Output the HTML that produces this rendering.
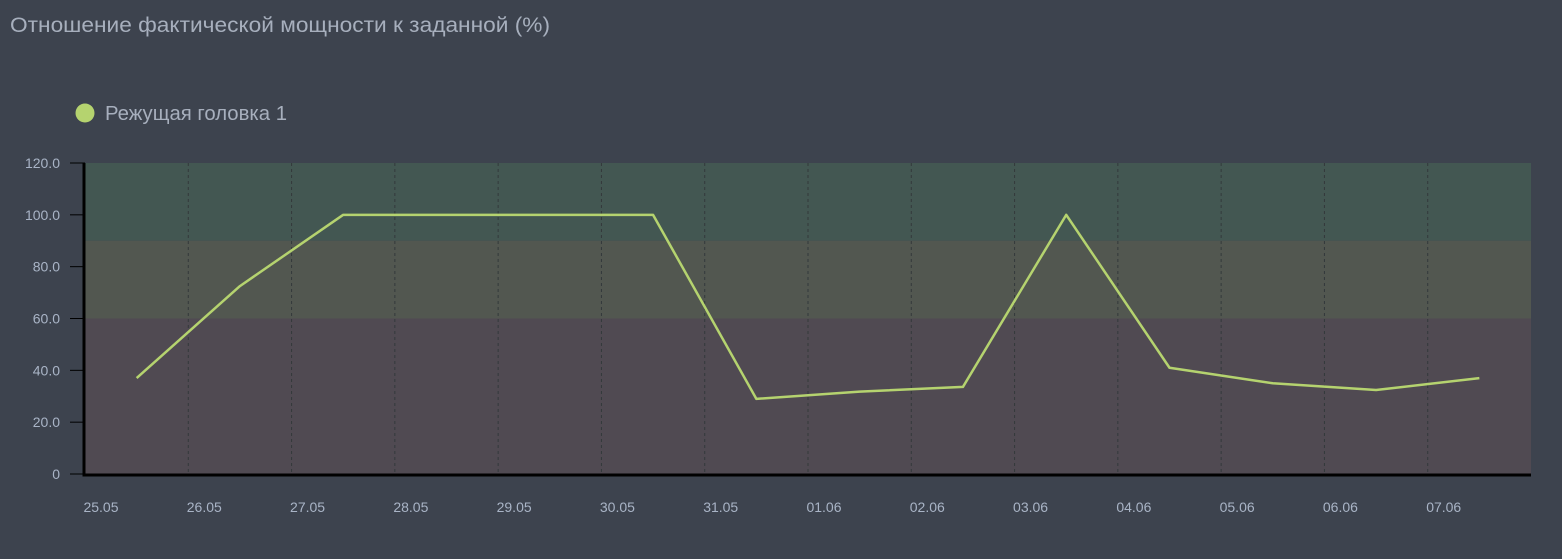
<!DOCTYPE html>
<html><head><meta charset="utf-8"><style>
html,body{margin:0;padding:0;background:#3d434e;}
body{width:1562px;height:554px;overflow:hidden;font-family:"Liberation Sans",sans-serif;}
</style></head><body>
<svg id="chart" width="1562" height="554" xmlns="http://www.w3.org/2000/svg">
<text x="10" y="32" font-size="21" textLength="540" lengthAdjust="spacingAndGlyphs" fill="#a7afbd" font-family="Liberation Sans, sans-serif">Отношение фактической мощности к заданной (%)</text>
<g>
<circle cx="85" cy="113" r="9.5" fill="#b5d36f"/>
<text x="105" y="120" font-size="20" textLength="182" lengthAdjust="spacingAndGlyphs" fill="#a7afbd">Режущая головка 1</text>
</g>
<g id="plot"></g>
</svg>
<script>
const categories=["25.05","26.05","27.05","28.05","29.05","30.05","31.05","01.06","02.06","03.06","04.06","05.06","06.06","07.06"];
const seriesValues=[37,72.5,100,100,100,100,29,31.8,33.6,100,41,35,32.4,37];
const yTicks=[0,20,40,60,80,100,120];
const yTickLabels=["0","20.0","40.0","60.0","80.0","100.0","120.0"];
const bandFrom=[90,60,0];
const bandTo=[120,90,60];
const bandColors=["#435752","#525750","#504a52"];

const NS="http://www.w3.org/2000/svg";
const L=85,R=1531,T=163,B=474;
const bw=(R-L)/categories.length;
const y=v=>B-(v/120)*(B-T);
const xc=i=>L+bw*(i+0.5);
const g=document.getElementById('plot');
function mk(t,a){const e=document.createElementNS(NS,t);for(const k in a)e.setAttribute(k,a[k]);g.appendChild(e);return e;}

bandFrom.forEach((f,i)=>{
 const r=mk('rect',{x:L,y:y(bandTo[i]),width:R-L,height:y(f)-y(bandTo[i]),fill:bandColors[i]});
 
 
});
for(let i=1;i<categories.length;i++){
 const l=mk('line',{x1:L+bw*i,x2:L+bw*i,y1:T,y2:B,stroke:"#33393b","stroke-width":1,"stroke-dasharray":"3,3"});
 
 
}
yTicks.forEach((v,i)=>{
 const t=mk('line',{x1:70,x2:L,y1:y(v),y2:y(v),stroke:"#000","stroke-width":1});
 
 
 const tx=mk('text',{x:60,y:y(v)+5,"text-anchor":"end","font-size":14,fill:"#a9b4c6"});
 tx.textContent=yTickLabels[i];
 
 
});
categories.forEach((c,i)=>{
 const tx=mk('text',{x:L+bw*i+16,y:512,"text-anchor":"middle","font-size":14,fill:"#a9b4c6"});
 tx.textContent=c;
 
 
});
const ax=mk('path',{d:`M${L-1},${T} V${B+1} H${R}`,stroke:"#000","stroke-width":3,fill:"none"});


const pts=seriesValues.map((v,i)=>xc(i)+","+y(v)).join(" ");
const pl=mk('polyline',{points:pts,fill:"none",stroke:"#b5d36f","stroke-width":2.5,"stroke-linejoin":"round"});


</script>
</body></html>
